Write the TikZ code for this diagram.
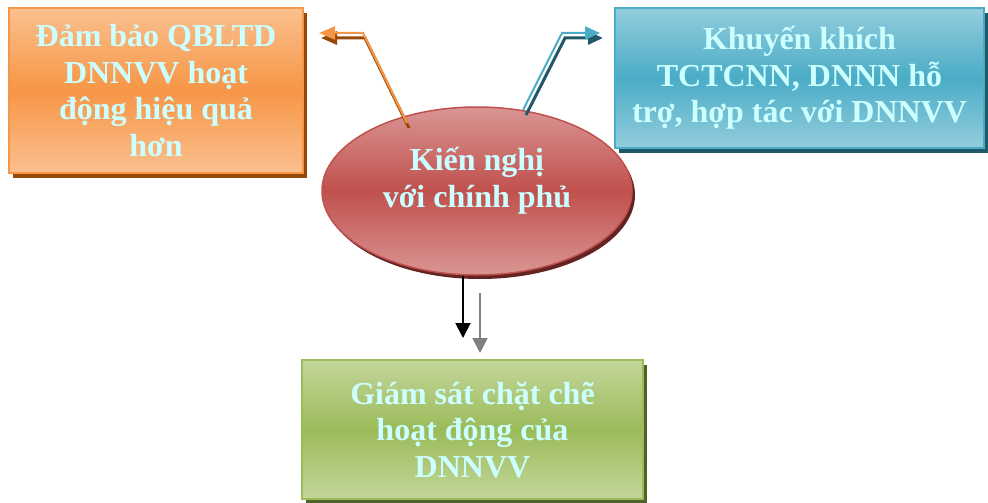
\documentclass[tikz,border=0pt]{standalone}
\usepackage{fontspec}
\setmainfont{Liberation Serif}
\usetikzlibrary{shapes.geometric,arrows.meta,shadows}
\definecolor{txt}{HTML}{CCFFFF}
\definecolor{orL}{HTML}{FAC08F}
\definecolor{orM}{HTML}{F79646}
\definecolor{orS}{HTML}{984807}
\definecolor{blL}{HTML}{93CDDD}
\definecolor{blM}{HTML}{4BACC6}
\definecolor{blS}{HTML}{215968}
\definecolor{grL}{HTML}{C3D69B}
\definecolor{grM}{HTML}{9BBB59}
\definecolor{grS}{HTML}{4F6228}
\definecolor{rdL}{HTML}{D99694}
\definecolor{rdM}{HTML}{C0504D}
\definecolor{rdS}{HTML}{632523}
\begin{document}
\begin{tikzpicture}[x=1pt,y=-1pt,
  boxtext/.style={font=\bfseries\fontsize{32}{36.5}\selectfont, text=txt, align=center, inner sep=0pt},
  shadedbox/.style n args={3}{rectangle, boxtext, draw=#2, line width=1.2pt,
    top color=#1, bottom color=#1, middle color=#2,
    general shadow={fill=#3, shadow xshift=4pt, shadow yshift=-5pt}},
  oline/.style={draw=orM, line width=2pt, -{Triangle[length=16pt,width=13pt]}},
  osh/.style={draw=orS, line width=3pt, -{Triangle[length=16pt,width=13pt]}},
  bline/.style={draw=blM, line width=2pt, -{Triangle[length=15pt,width=13pt]}},
  bsh/.style={draw=blS, line width=3pt, -{Triangle[length=15pt,width=13pt]}},
  downarrow/.style={line width=2pt, -{Triangle[length=15pt,width=15pt]}}]
\useasboundingbox (0,0) rectangle (988,503);

% boxes
\node[shadedbox={orL}{orM}{orS}, minimum width=294pt, minimum height=165pt] (ob) at (156,90.5)
  {Đảm bảo QBLTD\\DNNVV hoạt\\động hiệu quả\\hơn};
\node[shadedbox={blL}{blM}{blS}, minimum width=369pt, minimum height=140pt] (bb) at (799.5,78)
  {Khuyến khích\\TCTCNN, DNNN hỗ\\trợ, hợp tác với DNNVV};
\node[shadedbox={grL}{grM}{grS}, minimum width=341pt, minimum height=139pt] (gb) at (472.5,429.5)
  {Giám sát chặt chẽ\\hoạt động của\\DNNVV};

% ellipse
\node[ellipse, draw=rdM, line width=1.5pt, minimum width=310pt, minimum height=168pt, inner sep=0pt,
  top color=rdL, bottom color=rdL, middle color=rdM,
  general shadow={fill=rdS, shadow xshift=3pt, shadow yshift=-4pt}] (ell) at (477,191) {};
\node[boxtext] (ellt) at (477,181) {Kiến nghị\\với chính phủ};

% orange arrow
\coordinate (oS) at ([shift={(-70,-68)}]ell.center);
\coordinate (oB) at (363,33);
\coordinate (oT) at (319,33);
\draw[osh] ([shift={(2,5)}]oS) -- ([shift={(2,5)}]oB) -- ([shift={(2,5)}]oT);
\draw[oline] (oS) -- (oB) -- (oT);

% blue arrow
\coordinate (bS) at ([shift={(46,-81)}]ell.center);
\coordinate (bB) at (562,33);
\coordinate (bT) at (600,33);
\draw[bsh] ([shift={(3,5)}]bS) -- ([shift={(3,5)}]bB) -- ([shift={(3,5)}]bT);
\draw[bline] (bS) -- (bB) -- (bT);

% down arrows
\coordinate (kS) at ([xshift=-14pt]ell.south);
\coordinate (kT) at (463,338);
\draw[downarrow, black] (kS) -- (kT);
\coordinate (gS) at (480,293);
\coordinate (gT) at (480,353);
\draw[downarrow, draw=gray, fill=gray] (gS) -- (gT);
\end{tikzpicture}
\end{document}
